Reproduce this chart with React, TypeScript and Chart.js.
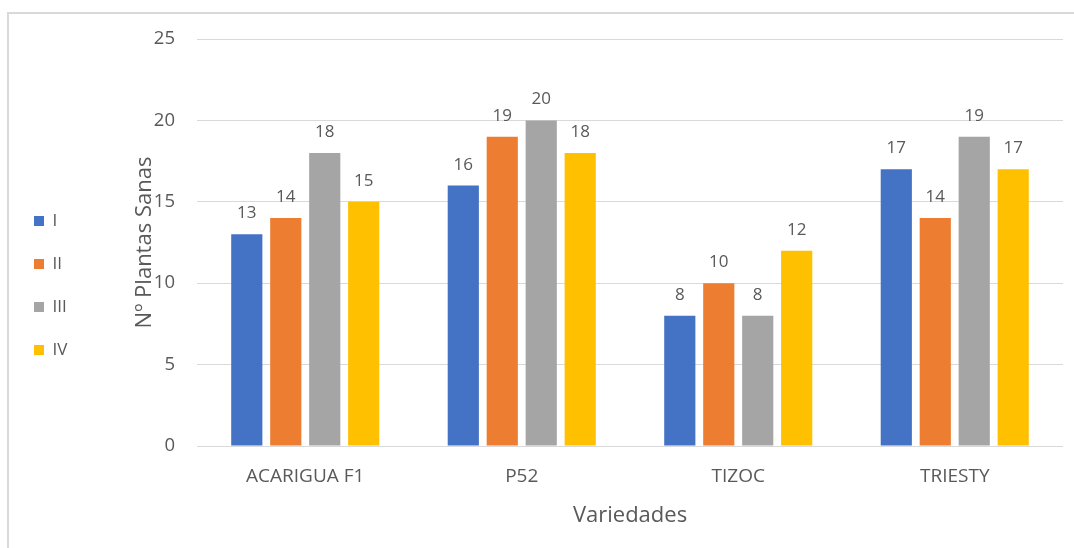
import React, { useEffect, useRef } from "react";
import { Chart, registerables } from "chart.js";

Chart.register(...registerables);

const categories = ["ACARIGUA F1", "P52", "TIZOC", "TRIESTY"];
const seriesNames = ["I", "II", "III", "IV"];
const seriesI = [13, 16, 8, 17];
const seriesII = [14, 19, 10, 14];
const seriesIII = [18, 20, 8, 19];
const seriesIV = [15, 18, 12, 17];
const colors = ["#4472C4", "#ED7D31", "#A5A5A5", "#FFC000"];
const yTicks = [0, 5, 10, 15, 20, 25];

const FONT = "'Open Sans', 'Noto Sans', sans-serif";
const TEXT = "#595959";
const AREA_LEFT = 188;
const AREA_TOP = 25;
const AREA_BOTTOM = 432;
const CANVAS_H = 534;

const dataLabels = {
  id: "dataLabels",
  afterDatasetsDraw(chart: any) {
    const ctx = chart.ctx;
    ctx.save();
    ctx.font = `17px ${FONT}`;
    ctx.fillStyle = TEXT;
    ctx.textAlign = "center";
    ctx.textBaseline = "alphabetic";
    chart.data.datasets.forEach((ds: any, i: number) => {
      const meta = chart.getDatasetMeta(i);
      meta.data.forEach((bar: any, j: number) => {
        ctx.fillText(String(ds.data[j]), bar.x, bar.y - 16);
      });
    });
    ctx.restore();
  },
};

export default function App() {
  const ref = useRef<HTMLCanvasElement>(null);
  useEffect(() => {
    const all = [seriesI, seriesII, seriesIII, seriesIV];
    const chart = new Chart(ref.current!, {
      type: "bar",
      data: {
        labels: categories,
        datasets: all.map((d, i) => ({
          label: seriesNames[i],
          data: d,
          backgroundColor: colors[i],
          barPercentage: 0.8,
          categoryPercentage: 0.72,
        })),
      },
      options: {
        animation: false,
        responsive: true,
        maintainAspectRatio: false,
        layout: { padding: { top: 9, right: 11, bottom: 0, left: -1 } },
        plugins: {
          tooltip: { enabled: false },
          legend: {
            position: "left",
            labels: {
              boxWidth: 10,
              boxHeight: 10,
              padding: 26,
              color: TEXT,
              font: { family: FONT, size: 17 },
            },
          },
        },
        scales: {
          x: {
            grid: { display: false, drawTicks: false },
            border: { display: false },
            ticks: { color: TEXT, font: { family: FONT, size: 19 }, padding: 19 },
            afterFit: (s: any) => {
              s.height = CANVAS_H - AREA_BOTTOM;
            },
            title: {
              display: true,
              text: "Variedades",
              color: TEXT,
              font: { family: FONT, size: 22 },
              padding: { top: 20, bottom: 19 },
            },
          },
          y: {
            min: 0,
            max: 25,
            afterBuildTicks: (s: any) => {
              s.ticks = yTicks.map((v) => ({ value: v }));
            },
            afterFit: (s: any) => {
              const lw = s.chart.legend ? s.chart.legend.width : 0;
              s.width = AREA_LEFT + 1 - lw;
              s.paddingTop = AREA_TOP;
            },
            grid: { color: "#d9d9d9", drawTicks: false },
            border: { display: false },
            ticks: { color: TEXT, font: { family: FONT, size: 18.5 }, padding: 22 },
            title: {
              display: true,
              text: "Nº Plantas Sanas",
              color: TEXT,
              font: { family: FONT, size: 22 },
              padding: { top: 54, bottom: 4 },
            },
          },
        },
      },
      plugins: [dataLabels],
    });
    return () => chart.destroy();
  }, []);
  return (
    <div style={{ position: "fixed", inset: 0, overflow: "hidden", background: "#fff" }}>
      <div
        style={{
          position: "absolute",
          left: 7,
          top: 12,
          width: 1200,
          height: 700,
          border: "2px solid #d9d9d9",
        }}
      />
      <div style={{ position: "absolute", left: 9, top: 14, width: 1065, height: 534 }}>
        <canvas ref={ref} />
      </div>
    </div>
  );
}
